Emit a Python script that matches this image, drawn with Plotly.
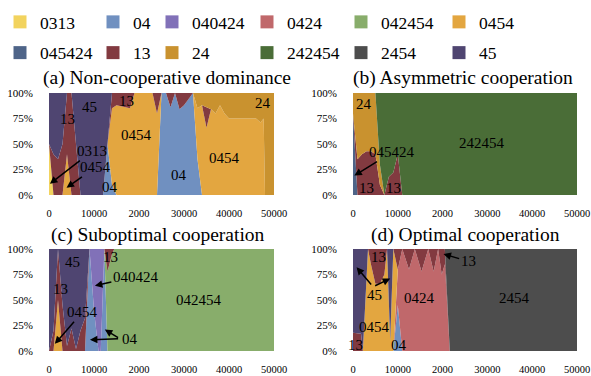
import plotly.graph_objects as go

W, H = 591, 376
FONT = "Times New Roman"

# ---- strategies (legend / stacking order) and colours ----
STRATS = ["0313", "04", "040424", "0424", "042454", "0454",
          "045424", "13", "24", "242454", "2454", "45"]
COLORS = ["#F2D35E", "#7090C0", "#8171B8", "#C0686B", "#88AD6B", "#E3A640",
          "#4E6488", "#823A40", "#C9922F", "#4A6D37", "#4D4D4D", "#4F4571"]

# ---- tick labels (as printed in the original) ----
X_TICKVALS = [0, 10000, 20000, 30000, 40000, 50000]
X_TICKTEXT = ["0", "10000", "2000", "30000", "40000", "50000"]
Y_TICKVALS = [0, 25, 50, 75, 100]
Y_TICKTEXT = ["0%", "25%", "50%", "75%", "100%"]

# ---- (a) Non-cooperative dominance ----
A_X    = [0, 1000, 2000, 3000, 4000, 5000, 6000, 7000, 12000, 13000, 14000, 15000, 18000, 19000,
          23000, 24000, 25000, 26000, 27000, 28000, 29000, 30000, 31000, 32000, 33000, 34000,
          35000, 36000, 37000, 38000, 39000, 40000, 46000, 47000, 47700, 48000, 50000]
A_0313 = [50, 0, 0, 0, 0, 0, 0, 0, 0, 0, 0, 0, 0, 0,
          0, 0, 0, 0, 0, 0, 0, 0, 0, 0, 0, 0,
          0, 0, 0, 0, 0, 0, 0, 0, 0, 0, 0]
A_04   = [0, 0, 0, 0, 0, 0, 0, 0, 0, 50, 10, 0, 0, 0,
          0, 0, 100, 100, 86, 100, 84, 88, 94, 100, 35, 0,
          0, 0, 0, 0, 0, 0, 0, 0, 0, 0, 0]
A_0454 = [0, 0, 0, 0, 40, 0, 0, 0, 0, 0, 75, 88, 85, 100,
          100, 80, 0, 0, 0, 0, 0, 0, 0, 0, 50, 88,
          66, 84, 80, 88, 80, 75, 75, 71, 75, 0, 0]
A_13   = [0, 40, 35, 50, 60, 100, 50, 0, 0, 0, 15, 12, 15, 0,
          0, 20, 0, 0, 14, 0, 16, 12, 6, 0, 0, 0,
          20, 0, 0, 0, 0, 0, 0, 0, 0, 0, 0]
A_24   = [0, 0, 0, 0, 0, 0, 0, 0, 0, 0, 0, 0, 0, 0,
          0, 0, 0, 0, 0, 0, 0, 0, 0, 0, 15, 12,
          14, 16, 20, 12, 20, 25, 25, 29, 25, 100, 100]
A_45   = [50, 60, 65, 50, 0, 0, 50, 100, 100, 50, 0, 0, 0, 0,
          0, 0, 0, 0, 0, 0, 0, 0, 0, 0, 0, 0,
          0, 0, 0, 0, 0, 0, 0, 0, 0, 0, 0]

# ---- (b) Asymmetric cooperation ----
B_X      = [0, 1000, 2000, 3000, 4000, 5000, 6000, 7000, 8000, 9000, 10000, 11000, 50000]
B_045424 = [80, 0, 0, 0, 0, 0, 0, 0, 0, 0, 0, 0, 0]
B_13     = [0, 35, 40, 43, 43, 40, 10, 0, 18, 22, 40, 0, 0]
B_24     = [20, 65, 60, 57, 57, 60, 20, 0, 0, 0, 0, 0, 0]
B_242454 = [0, 0, 0, 0, 0, 0, 70, 100, 82, 78, 60, 100, 100]

# ---- (c) Suboptimal cooperation ----
C_X      = [0, 1000, 2000, 3000, 4000, 5000, 6000, 7000, 8000, 9000, 10000, 11000, 11500,
            12300, 13000, 14000, 14500, 50000]
C_04     = [0, 0, 0, 0, 0, 0, 0, 0, 0, 100, 40, 0, 0, 100, 0, 0, 0, 0]
C_040424 = [0, 0, 0, 0, 0, 0, 0, 0, 0, 0, 60, 100, 100, 0, 0, 0, 0, 0]
C_042454 = [0, 0, 0, 0, 0, 0, 0, 0, 0, 0, 0, 0, 0, 0, 78, 95, 100, 100]
C_0454   = [0, 0, 50, 0, 0, 0, 0, 0, 0, 0, 0, 0, 0, 0, 0, 0, 0, 0]
C_13     = [0, 20, 50, 45, 5, 22, 2, 20, 32, 0, 0, 0, 0, 0, 22, 5, 0, 0]
C_45     = [100, 80, 0, 55, 95, 78, 98, 80, 68, 0, 0, 0, 0, 0, 0, 0, 0, 0]

# ---- (d) Optimal cooperation ----
D_X    = [0, 1800, 2200, 3350, 4000, 5000, 6000, 7000, 7600, 8300, 9000, 10000, 11000,
          12500, 13800, 15300, 16800, 18000, 19000, 19800, 20500, 21600, 50000]
D_04   = [0, 0, 0, 0, 0, 0, 0, 0, 0, 0, 0, 45, 0,
          0, 0, 0, 0, 0, 0, 0, 0, 0, 0]
D_0424 = [0, 0, 0, 0, 0, 0, 0, 0, 0, 0, 0, 35, 100,
          80, 100, 78, 100, 78, 100, 75, 85, 0, 0]
D_0454 = [0, 0, 0, 100, 85, 66, 66, 75, 100, 10, 100, 0, 0,
          0, 0, 0, 0, 0, 0, 0, 0, 0, 0]
D_13   = [18, 17, 0, 0, 15, 34, 34, 25, 0, 0, 0, 20, 0,
          20, 0, 22, 0, 22, 0, 25, 15, 0, 0]
D_2454 = [0, 0, 0, 0, 0, 0, 0, 0, 0, 0, 0, 0, 0,
          0, 0, 0, 0, 0, 0, 0, 0, 100, 100]
D_45   = [82, 83, 100, 0, 0, 0, 0, 0, 0, 90, 0, 0, 0,
          0, 0, 0, 0, 0, 0, 0, 0, 0, 0]

PANELS = [
    ("(a) Non-cooperative dominance", A_X,
     {"0313": A_0313, "04": A_04, "0454": A_0454, "13": A_13, "24": A_24, "45": A_45}),
    ("(b) Asymmetric cooperation", B_X,
     {"045424": B_045424, "13": B_13, "24": B_24, "242454": B_242454}),
    ("(c) Suboptimal cooperation", C_X,
     {"04": C_04, "040424": C_040424, "042454": C_042454, "0454": C_0454, "13": C_13, "45": C_45}),
    ("(d) Optimal cooperation", D_X,
     {"04": D_04, "0424": D_0424, "0454": D_0454, "13": D_13, "2454": D_2454, "45": D_45}),
]

# ---- in-plot labels: (panel, text, x, y, arrow-head x, arrow-head y) ----
LABELS = [
    (0, "45", 9100, 86, None, None), (0, "13", 4200, 75, None, None),
    (0, "13", 17300, 92, None, None), (0, "0454", 19500, 59, None, None),
    (0, "04", 28900, 20, None, None), (0, "0454", 39100, 36, None, None),
    (0, "24", 47500, 90, None, None), (0, "04", 13500, 8, None, None),
    (0, "0313", 9600, 43, 200, 11), (0, "0454", 10300, 27, 3900, 7),
    (1, "24", 2500, 89, None, None), (1, "242454", 28900, 51, None, None),
    (1, "13", 3050, 7, None, None), (1, "13", 9150, 7, None, None),
    (1, "045424", 8800, 42, 300, 19),
    (2, "45", 5200, 87, None, None), (2, "13", 2450, 61, None, None),
    (2, "13", 13700, 92, None, None), (2, "042454", 33400, 50, None, None),
    (2, "040424", 19300, 73, 10200, 64), (2, "0454", 7400, 38, 1300, 7),
    (2, "04", 17900, 12, None, None),
    (3, "13", 5650, 92, None, None), (3, "0424", 14950, 52, None, None),
    (3, "2454", 36150, 52, None, None), (3, "0454", 4700, 24, None, None),
    (3, "13", 450, 6, None, None), (3, "04", 10270, 6, None, None),
    (3, "45", 4700, 55, None, None), (3, "13", 25700, 88, 20200, 95),
]
# extra arrows without text: (panel, tail x, tail y, head x, head y)
ARROWS = [
    (2, 15800, 12, 9100, 11), (2, 15800, 12, 12400, 21),
    (3, 4500, 63, 800, 82), (3, 4500, 63, 8300, 71),
]

# ---- layout geometry (pixels) ----
DOM = [((49, 274), (93, 195)), ((353, 577), (93, 195)),
       ((49, 274), (249, 351)), ((353, 577), (249, 351))]
TITLE_POS = [(166.5, 78), (463, 78), (157.5, 235), (465, 235)]

fig = go.Figure()
layout = dict(width=W, height=H, margin=dict(l=0, r=0, t=0, b=0, autoexpand=False),
              paper_bgcolor="white", plot_bgcolor="white", showlegend=True,
              font=dict(family=FONT, color="black"))
annotations = []

for i, (title, xs, series) in enumerate(PANELS):
    suf = "" if i == 0 else str(i + 1)
    for s, col in zip(STRATS, COLORS):
        if s in series:
            fig.add_trace(go.Scatter(
                x=xs, y=series[s], mode="lines", stackgroup="p%d" % i,
                line=dict(width=0, color=col),
                fillcolor=col, showlegend=False, hoverinfo="skip",
                xaxis="x" + suf, yaxis="y" + suf))
    (x0, x1), (y0, y1) = DOM[i]
    layout["xaxis" + suf] = dict(domain=[x0 / W, x1 / W], range=[0, 50000],
                                 anchor="y" + suf, tickvals=X_TICKVALS, ticktext=X_TICKTEXT,
                                 showgrid=False, zeroline=False, showline=False,
                                 ticks="outside", ticklen=8, tickcolor="rgba(0,0,0,0)",
                                 ticklabeloverflow="allow",
                                 tickfont=dict(family=FONT, size=10.5, color="black"))
    layout["yaxis" + suf] = dict(domain=[1 - y1 / H, 1 - y0 / H], range=[0, 100],
                                 anchor="x" + suf, tickvals=Y_TICKVALS, ticktext=Y_TICKTEXT,
                                 showgrid=False, zeroline=False, showline=False,
                                 ticks="outside", ticklen=13, tickcolor="rgba(0,0,0,0)",
                                 ticklabeloverflow="allow",
                                 tickfont=dict(family=FONT, size=11, color="black"))
    tx, ty = TITLE_POS[i]
    annotations.append(dict(text=title, x=tx / W, y=1 - ty / H, xref="paper", yref="paper",
                            showarrow=False, xanchor="center", yanchor="middle",
                            font=dict(family=FONT, size=19.5, color="black")))

for (p, text, x, y, hx, hy) in LABELS:
    suf = "" if p == 0 else str(p + 1)
    if hx is None:
        annotations.append(dict(text=text, x=x, y=y, xref="x" + suf, yref="y" + suf,
                                showarrow=False, font=dict(family=FONT, size=15, color="black")))
    else:
        annotations.append(dict(text=text, x=hx, y=hy, ax=x, ay=y, xref="x" + suf, yref="y" + suf,
                                axref="x" + suf, ayref="y" + suf, showarrow=True,
                                arrowhead=2, arrowsize=1, arrowwidth=1.5, arrowcolor="black",
                                font=dict(family=FONT, size=15, color="black")))
for (p, tx_, ty_, hx, hy) in ARROWS:
    suf = "" if p == 0 else str(p + 1)
    annotations.append(dict(text=" ", x=hx, y=hy, ax=tx_, ay=ty_, xref="x" + suf, yref="y" + suf,
                            axref="x" + suf, ayref="y" + suf, showarrow=True,
                            arrowhead=2, arrowsize=1, arrowwidth=1.5, arrowcolor="black",
                            font=dict(family=FONT, size=2)))

# ---- legend: 6 columns x 2 rows ----
LEG_COL_X = [0, 93, 152, 247, 341, 439]
for j in range(12):
    col = j % 6
    lname = "legend" if col == 0 else "legend%d" % (col + 1)
    idx = (j // 6) * 6 + col
    fig.add_trace(go.Scatter(x=[None], y=[None], mode="markers", name=STRATS[idx],
                             marker=dict(symbol="square", size=13, color=COLORS[idx]),
                             legend=lname, legendgroup=STRATS[idx], showlegend=True))
for col in range(6):
    lname = "legend" if col == 0 else "legend%d" % (col + 1)
    layout[lname] = dict(x=LEG_COL_X[col] / W, y=1 - 4 / H,
                         xanchor="left", yanchor="top", orientation="v",
                         bgcolor="rgba(0,0,0,0)", borderwidth=0, tracegroupgap=5,
                         itemsizing="trace", font=dict(family=FONT, size=17.5, color="black"))

layout["annotations"] = annotations
fig.update_layout(**layout)
fig.write_html("out.html", config={"displayModeBar": False},
               post_script="document.body.style.margin='0';"
                           "document.documentElement.style.margin='0';")
